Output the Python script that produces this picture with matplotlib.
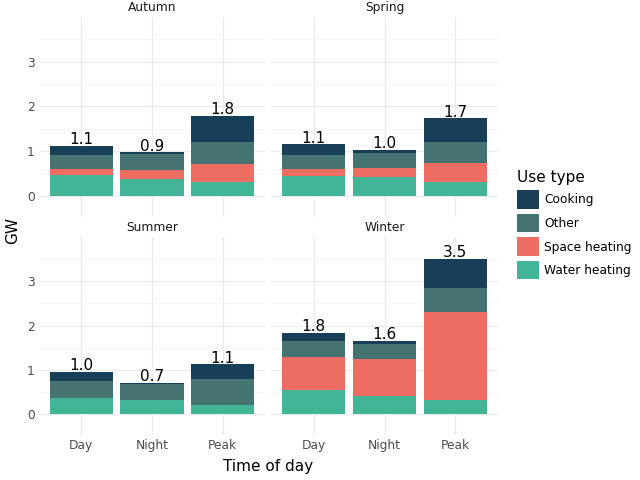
import matplotlib
matplotlib.use("Agg")
import matplotlib.pyplot as plt
from matplotlib.patches import Patch
import numpy as np

seasons = ["Autumn", "Spring", "Summer", "Winter"]
times = ["Day", "Night", "Peak"]
use_types = ["Cooking", "Other", "Space heating", "Water heating"]

# GW per time of day, one row per season
water_heating = [[0.47, 0.37, 0.30], [0.44, 0.42, 0.30], [0.36, 0.32, 0.20], [0.55, 0.41, 0.32]]
space_heating = [[0.13, 0.21, 0.41], [0.16, 0.20, 0.44], [0.00, 0.00, 0.00], [0.75, 0.84, 1.98]]
other = [[0.32, 0.35, 0.50], [0.32, 0.34, 0.47], [0.39, 0.36, 0.59], [0.36, 0.34, 0.55]]
cooking = [[0.20, 0.04, 0.58], [0.23, 0.07, 0.52], [0.20, 0.03, 0.34], [0.18, 0.07, 0.66]]
total_labels = [["1.1", "0.9", "1.8"], ["1.1", "1.0", "1.7"], ["1.0", "0.7", "1.1"], ["1.8", "1.6", "3.5"]]

colors = {
    "Cooking": "#183f57",
    "Other": "#457372",
    "Space heating": "#ed6d62",
    "Water heating": "#42b497",
}

W, H = 640, 480
fig = plt.figure(figsize=(6.4, 4.8), dpi=100)

cols = [(39, 265), (271, 498)]
rows = [(17, 216.7), (237, 435)]

x = np.arange(len(times))
for i, season in enumerate(seasons):
    r, c = divmod(i, 2)
    x0, x1 = cols[c]
    y0, y1 = rows[r]
    ax = fig.add_axes([x0 / W, 1 - y1 / H, (x1 - x0) / W, (y1 - y0) / H])

    stack = [
        ("Water heating", water_heating[i]),
        ("Space heating", space_heating[i]),
        ("Other", other[i]),
        ("Cooking", cooking[i]),
    ]
    bottom = np.zeros(len(times))
    for name, vals in stack:
        vals = np.array(vals)
        ax.bar(x, vals, bottom=bottom, width=0.9, color=colors[name], zorder=2)
        bottom += vals
    for xi, top, lab in zip(x, bottom, total_labels[i]):
        ax.annotate(lab, (xi, top), xytext=(0, -1), textcoords="offset points",
                    ha="center", va="bottom", fontsize=11, color="black", zorder=3)

    ax.set_xlim(-0.6, 2.6)
    ax.set_ylim(-0.47, 4.0)
    ax.set_xticks(x)
    ax.set_yticks([0, 1, 2, 3])
    ax.set_yticks([0.5, 1.5, 2.5, 3.5], minor=True)
    ax.grid(which="major", color="#ebebeb", lw=0.9, zorder=0)
    ax.grid(which="minor", axis="y", color="#f3f3f3", lw=0.5, zorder=0)
    ax.set_axisbelow(True)
    for s in ax.spines.values():
        s.set_visible(False)
    ax.tick_params(which="both", length=0, labelsize=8.8, labelcolor="#4d4d4d", pad=3)
    if r == 1:
        ax.set_xticklabels(times)
    else:
        ax.set_xticklabels([])
    if c == 1:
        ax.set_yticklabels([])
    ax.set_title(season, fontsize=8.8, color="#1a1a1a", pad=4)

fig.text(268 / W, 1 - 466 / H, "Time of day", ha="center", va="center", fontsize=11)
fig.text(13 / W, 1 - 230 / H, "GW", ha="center", va="center", rotation=90, fontsize=11)

handles = [Patch(facecolor=colors[u], edgecolor="none") for u in use_types]
leg = fig.legend(handles, use_types, loc="upper left", bbox_to_anchor=(517 / W, 1 - 170 / H),
                 frameon=False, fontsize=8.8, title="Use type", title_fontsize=11,
                 alignment="left", borderpad=0, borderaxespad=0,
                 handlelength=1.8, handleheight=1.95, labelspacing=0.42, handletextpad=0.4)

fig.savefig("out.png", dpi=100)
